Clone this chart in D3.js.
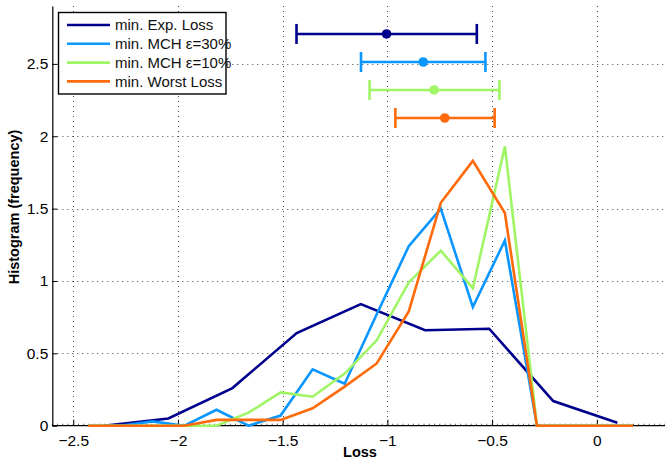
<!DOCTYPE html>
<html>
<head>
<meta charset="utf-8">
<script src="https://cdn.jsdelivr.net/npm/d3@7"></script>
<style>
  body { margin: 0; background: #fff; }
  svg { display: block; font-family: "Liberation Sans", Arial, sans-serif; }
</style>
</head>
<body>
<svg id="chart" width="665" height="461"></svg>
<script>
// coarse bins (min. Exp. Loss)
const binsCoarse = [-2.353, -2.046, -1.740, -1.433, -1.127, -0.820, -0.514, -0.208, 0.098];
const expLoss    = [0, 0.05, 0.26, 0.64, 0.84, 0.66, 0.67, 0.17, 0.02];

// fine bins (other three)
const binsFine = [-2.428, -2.275, -2.122, -1.969, -1.816, -1.663, -1.510, -1.357, -1.204,
                  -1.051, -0.898, -0.745, -0.592, -0.439, -0.286, -0.133, 0.020, 0.173];
const mch30 = [0, 0, 0.03, 0, 0.11, 0, 0.07, 0.39, 0.29, 0.77, 1.24, 1.50, 0.82, 1.28, 0, 0, 0, 0];
const mch10 = [0, 0, 0, 0, 0, 0.09, 0.23, 0.20, 0.36, 0.59, 0.99, 1.21, 0.95, 1.93, 0, 0, 0, 0];
const worst = [0, 0, 0, 0, 0.04, 0.04, 0.04, 0.12, 0.27, 0.43, 0.79, 1.54, 1.83, 1.47, 0, 0, 0, 0];

// error bars: mean and range, drawn at a fixed level each
const seriesNames = ['min. Exp. Loss', 'min. MCH \u03b5=30%', 'min. MCH \u03b5=10%', 'min. Worst Loss'];
const seriesColors = ['#00008c', '#0a96ff', '#a0f564', '#ff6a0a'];
const errLevel = [2.707, 2.513, 2.320, 2.126];
const errMean  = [-1.004, -0.829, -0.777, -0.726];
const errLow   = [-1.434, -1.126, -1.085, -0.962];
const errHigh  = [-0.573, -0.532, -0.465, -0.488];

const xTicks = [-2.5, -2, -1.5, -1, -0.5, 0];
const yTicks = [0, 0.5, 1, 1.5, 2, 2.5];

const svg = d3.select('#chart');
const pl = 52.3, pr = 665, pt = 6, pb = 425.7;

const x = d3.scaleLinear().domain([-2.6, 0.3255]).range([pl, pr]);
const y = d3.scaleLinear().domain([0, 2.9]).range([pb, pt]);

// grid
const grid = svg.append('g').attr('stroke', '#444').attr('stroke-width', 1)
  .attr('stroke-dasharray', '1,4');
grid.selectAll('.gx').data(xTicks).enter().append('line')
  .attr('x1', d => Math.round(x(d)) + 0.5).attr('x2', d => Math.round(x(d)) + 0.5)
  .attr('y1', pt).attr('y2', pb);
grid.selectAll('.gy').data(yTicks.filter(d => d > 0)).enter().append('line')
  .attr('y1', d => Math.round(y(d)) + 0.5).attr('y2', d => Math.round(y(d)) + 0.5)
  .attr('x1', pl).attr('x2', pr);

// axes
const xAxis = svg.append('g').attr('transform', `translate(0,${pb})`)
  .call(d3.axisBottom(x).tickValues(xTicks).tickSizeInner(-6).tickSizeOuter(0).tickPadding(9)
    .tickFormat(d3.format('')));
const yAxis = svg.append('g').attr('transform', `translate(${pl},0)`)
  .call(d3.axisLeft(y).tickValues(yTicks).tickSizeInner(-5).tickSizeOuter(0).tickPadding(4)
    .tickFormat(d3.format('')));

// minor x ticks
svg.append('g').selectAll('line').data(d3.range(-2.6, 0.33, 0.025)).enter().append('line')
  .attr('x1', d => x(d)).attr('x2', d => x(d))
  .attr('y1', pb).attr('y2', pb - 2)
  .attr('stroke', '#000').attr('stroke-width', 0.6);

[xAxis, yAxis].forEach(a => {
  a.select('.domain').attr('stroke', '#000').attr('stroke-width', 1.2);
  a.selectAll('.tick line').attr('stroke', '#000').attr('stroke-width', 1);
  a.selectAll('text').attr('font-size', 15.5).attr('fill', '#000')
    .attr('font-family', '"Liberation Sans", Arial, sans-serif');
});
xAxis.select('.domain').attr('d', `M${pl},0H${pr}`);

// histogram lines
const line = d3.line().x(d => x(d[0])).y(d => y(d[1]));
const seriesData = [
  d3.zip(binsCoarse, expLoss),
  d3.zip(binsFine, mch30),
  d3.zip(binsFine, mch10),
  d3.zip(binsFine, worst)
];
svg.append('g').selectAll('path').data(seriesData).enter().append('path')
  .attr('d', line)
  .attr('fill', 'none')
  .attr('stroke', (d, i) => seriesColors[i])
  .attr('stroke-width', 2.6)
  .attr('stroke-linejoin', 'miter');

// error bars
const eb = svg.append('g').selectAll('g').data(seriesNames).enter().append('g')
  .attr('stroke', (d, i) => seriesColors[i]).attr('fill', (d, i) => seriesColors[i]);
eb.append('line')
  .attr('x1', (d, i) => x(errLow[i])).attr('x2', (d, i) => x(errHigh[i]))
  .attr('y1', (d, i) => y(errLevel[i])).attr('y2', (d, i) => y(errLevel[i]))
  .attr('stroke-width', 2.6);
eb.append('line')
  .attr('x1', (d, i) => x(errLow[i])).attr('x2', (d, i) => x(errLow[i]))
  .attr('y1', (d, i) => y(errLevel[i]) - 10).attr('y2', (d, i) => y(errLevel[i]) + 10)
  .attr('stroke-width', 2.6);
eb.append('line')
  .attr('x1', (d, i) => x(errHigh[i])).attr('x2', (d, i) => x(errHigh[i]))
  .attr('y1', (d, i) => y(errLevel[i]) - 10).attr('y2', (d, i) => y(errLevel[i]) + 10)
  .attr('stroke-width', 2.6);
eb.append('circle')
  .attr('cx', (d, i) => x(errMean[i])).attr('cy', (d, i) => y(errLevel[i]))
  .attr('r', 4.8).attr('stroke', 'none');

// legend
const lg = svg.append('g');
lg.append('rect').attr('x', 58.5).attr('y', 12.5).attr('width', 167.5).attr('height', 81.5)
  .attr('fill', '#fff').attr('stroke', '#000').attr('stroke-width', 1.4);
const rows = lg.selectAll('.row').data(seriesNames).enter().append('g')
  .attr('transform', (d, i) => `translate(0,${25 + i * 18.8})`);
rows.append('line').attr('x1', 67).attr('x2', 110).attr('y1', 0).attr('y2', 0)
  .attr('stroke', (d, i) => seriesColors[i]).attr('stroke-width', 2.6);
rows.append('text').attr('x', 115).attr('y', 5.3).attr('font-size', 15).attr('fill', '#111')
  .text(d => d);

// axis titles
svg.append('text').attr('x', 360).attr('y', 457).attr('text-anchor', 'middle')
  .attr('font-size', 14.5).attr('font-weight', 'bold').text('Loss');
svg.append('text').attr('transform', 'translate(19,207) rotate(-90)').attr('text-anchor', 'middle')
  .attr('font-size', 14.5).attr('font-weight', 'bold').text('Histogram (frequency)');
</script>
</body>
</html>
